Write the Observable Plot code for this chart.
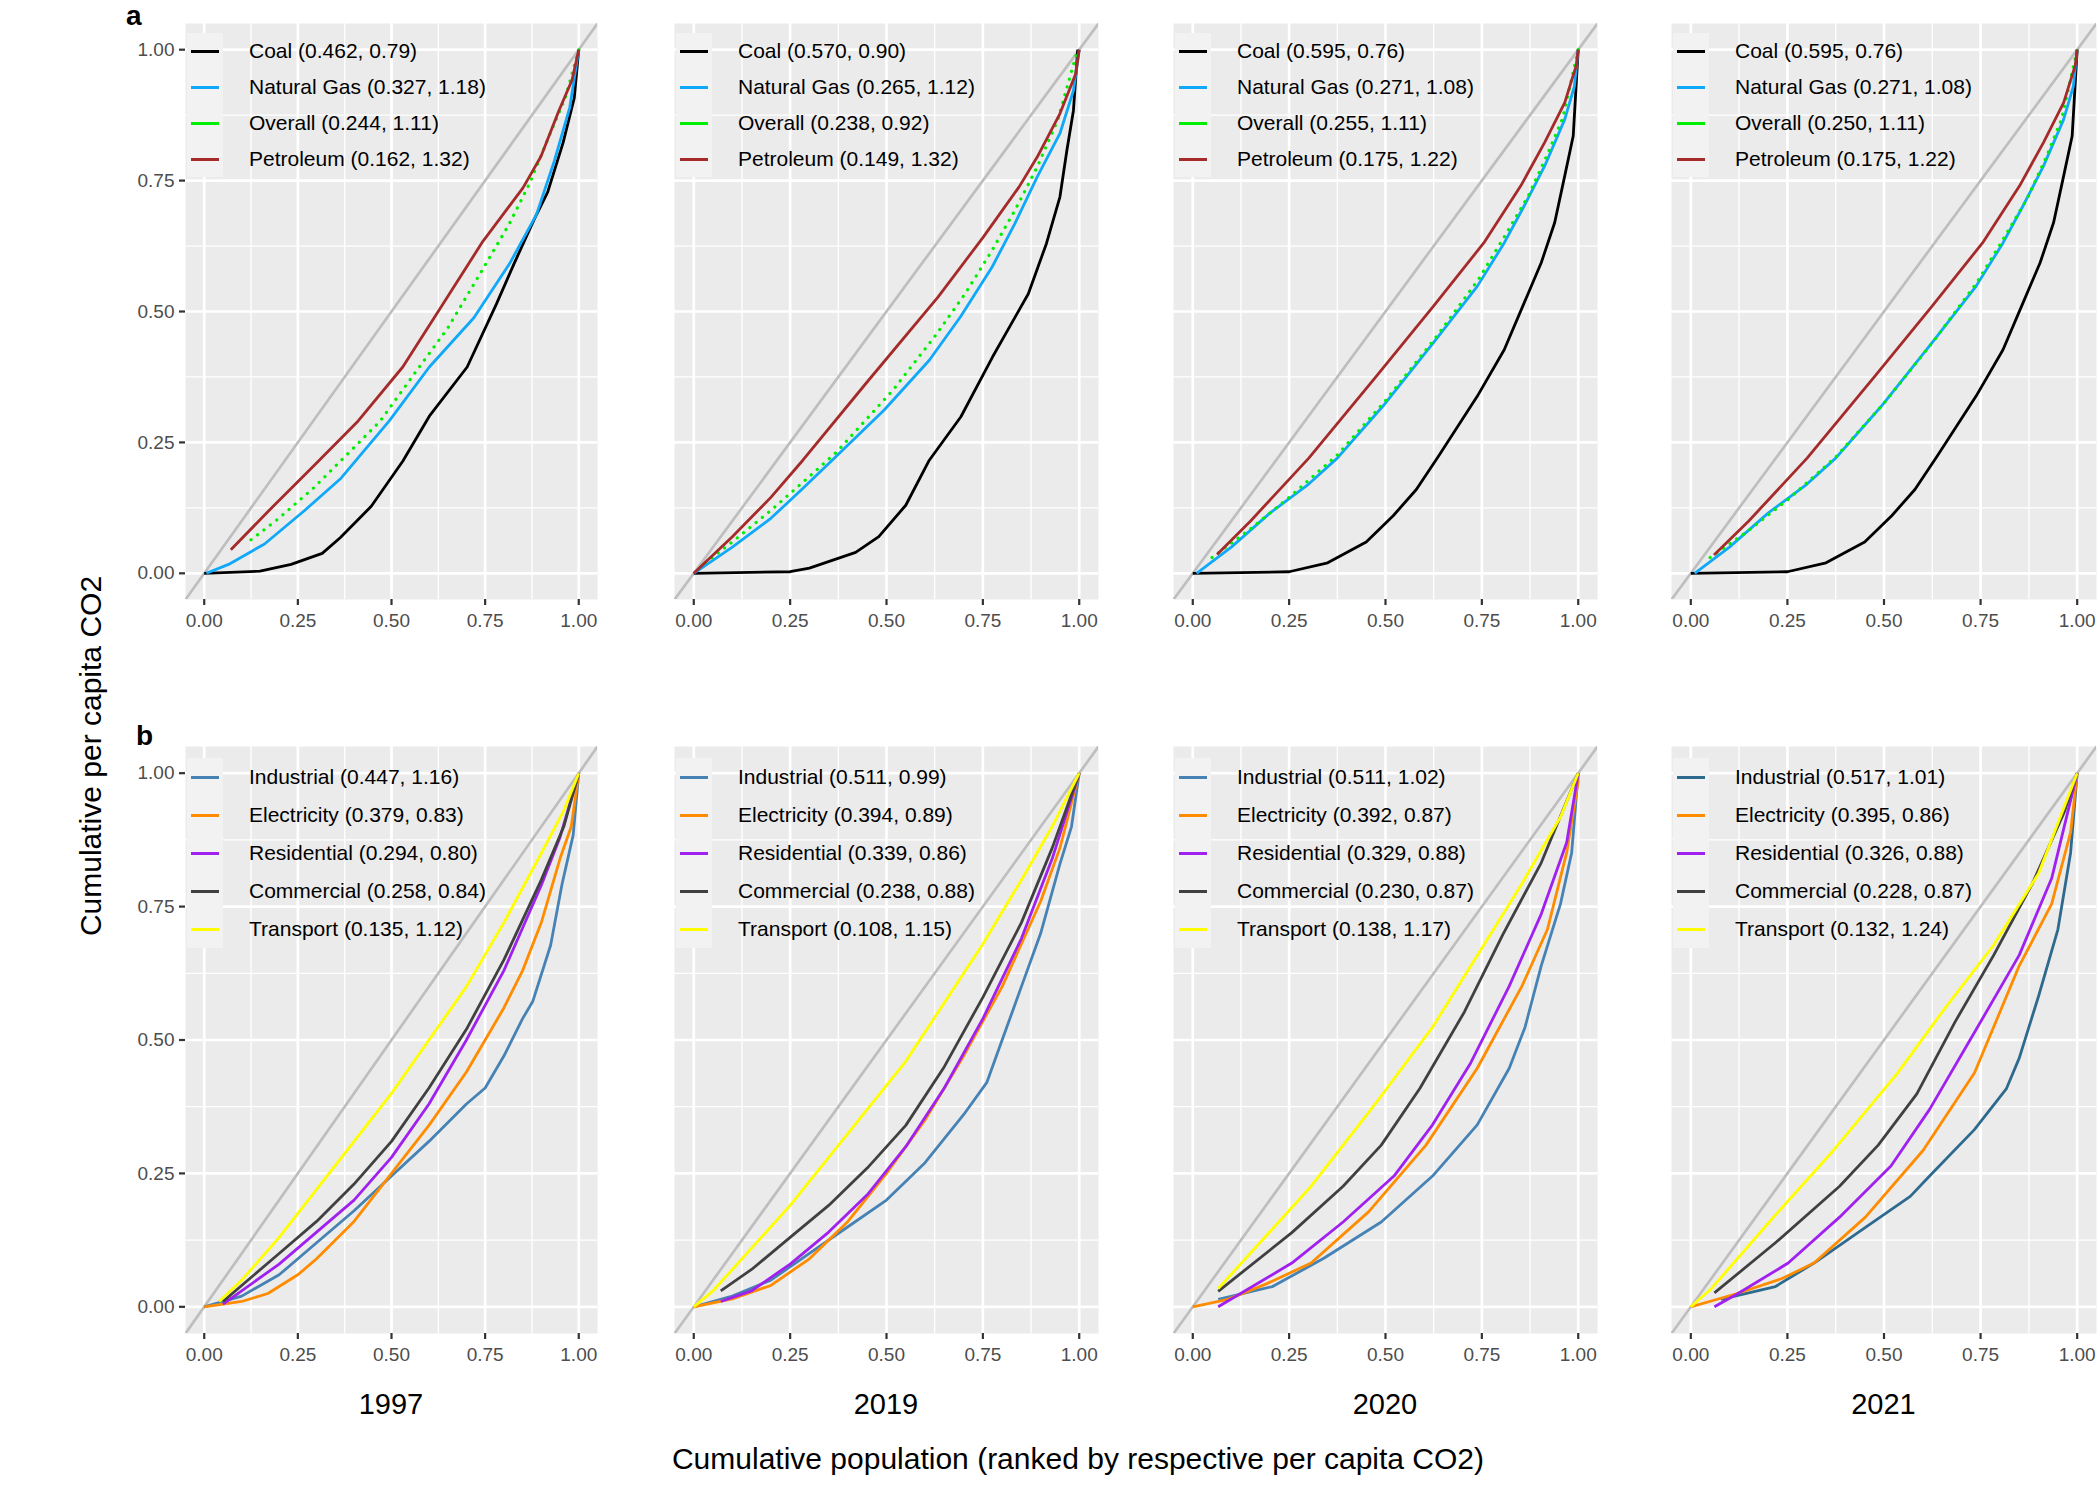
<!DOCTYPE html>
<html><head><meta charset="utf-8">
<script src="https://cdn.jsdelivr.net/npm/d3@7"></script>
<script src="https://cdn.jsdelivr.net/npm/@observablehq/plot@0.6"></script>
<style>
body{margin:0;background:#fff;font-family:Arial,"Liberation Sans",sans-serif;}
#root{position:relative;width:2100px;height:1500px;}
.abs{position:absolute;}
.leg{position:absolute;font-size:21px;color:#000;}
.legrow{position:relative;height:37px;line-height:37px;white-space:nowrap;}
.key{position:absolute;left:0;top:0;width:36px;height:37px;background:#F2F2F2;}
.seg{position:absolute;left:4px;top:17px;width:28px;height:3px;}
.lab{position:absolute;left:62px;top:0;}
</style></head>
<body><div id="root"></div>
<script>
const years = ["1997","2019","2020","2021"];
const topSeries = ["Coal","Natural Gas","Overall","Petroleum"];
const botSeries = ["Industrial","Electricity","Residential","Commercial","Transport"];
const topColors = ["#000000","#10A8F8","#00EE00","#A52A2A"];
const botColorsByYear = [
  ["#4682B4","#FF8C00","#A020F0","#404040","#FFFF00"],
  ["#4682B4","#FF8C00","#A020F0","#404040","#FFFF00"],
  ["#4682B4","#FF8C00","#A020F0","#404040","#FFFF00"],
  ["#2E6A8E","#FF8C00","#A020F0","#404040","#FFFF00"]
];
const topStats = [
  ["(0.462, 0.79)","(0.327, 1.18)","(0.244, 1.11)","(0.162, 1.32)"],
  ["(0.570, 0.90)","(0.265, 1.12)","(0.238, 0.92)","(0.149, 1.32)"],
  ["(0.595, 0.76)","(0.271, 1.08)","(0.255, 1.11)","(0.175, 1.22)"],
  ["(0.595, 0.76)","(0.271, 1.08)","(0.250, 1.11)","(0.175, 1.22)"]
];
const botStats = [
  ["(0.447, 1.16)","(0.379, 0.83)","(0.294, 0.80)","(0.258, 0.84)","(0.135, 1.12)"],
  ["(0.511, 0.99)","(0.394, 0.89)","(0.339, 0.86)","(0.238, 0.88)","(0.108, 1.15)"],
  ["(0.511, 1.02)","(0.392, 0.87)","(0.329, 0.88)","(0.230, 0.87)","(0.138, 1.17)"],
  ["(0.517, 1.01)","(0.395, 0.86)","(0.326, 0.88)","(0.228, 0.87)","(0.132, 1.24)"]
];
const equality = [-0.05, 1.05];
const ticksMajor = [0,0.25,0.5,0.75,1];
const ticksMinor = [-0.125,0.125,0.375,0.625,0.875];

// Panel a curves [x,y]
const coal1997 = [[0,0],[0.149,0.004],[0.232,0.017],[0.315,0.038],[0.363,0.068],[0.446,0.128],[0.53,0.214],[0.601,0.3],[0.702,0.394],[0.78,0.514],[0.827,0.591],[0.881,0.676],[0.917,0.728],[0.958,0.822],[0.988,0.908],[1,1]];
const gas1997 = [[0.006,0],[0.065,0.017],[0.161,0.056],[0.268,0.12],[0.363,0.18],[0.494,0.291],[0.601,0.394],[0.72,0.488],[0.815,0.591],[0.887,0.685],[0.935,0.788],[0.976,0.89],[1,1]];
const overall1997 = [[0.125,0.064],[0.196,0.103],[0.292,0.163],[0.387,0.231],[0.47,0.291],[0.565,0.385],[0.649,0.467],[0.738,0.574],[0.815,0.668],[0.869,0.745],[0.923,0.839],[0.964,0.908],[1,1]];
const petro1997 = [[0.071,0.045],[0.173,0.12],[0.292,0.205],[0.411,0.291],[0.53,0.394],[0.637,0.514],[0.744,0.634],[0.851,0.736],[0.899,0.796],[0.946,0.882],[0.982,0.942],[1,1]];

const coal2019 = [[0,0],[0.25,0.003],[0.3,0.01],[0.42,0.04],[0.48,0.07],[0.55,0.13],[0.611,0.216],[0.693,0.299],[0.775,0.413],[0.868,0.534],[0.915,0.63],[0.95,0.719],[0.968,0.808],[0.985,0.884],[0.996,1]];
const gas2019 = [[0,0],[0.1,0.05],[0.2,0.105],[0.28,0.16],[0.359,0.216],[0.494,0.312],[0.611,0.407],[0.692,0.49],[0.774,0.585],[0.833,0.668],[0.891,0.757],[0.95,0.84],[0.985,0.922],[1,1]];
const overall2019 = [[0.03,0.02],[0.1,0.06],[0.2,0.12],[0.3,0.185],[0.371,0.232],[0.517,0.35],[0.628,0.455],[0.704,0.534],[0.774,0.617],[0.833,0.693],[0.891,0.776],[0.944,0.865],[0.996,1]];
const petro2019 = [[0,0],[0.1,0.07],[0.2,0.145],[0.283,0.216],[0.447,0.363],[0.634,0.528],[0.751,0.642],[0.844,0.738],[0.891,0.795],[0.95,0.878],[0.991,0.954],[1,1]];

const coal2020 = [[0,0],[0.25,0.003],[0.35,0.02],[0.45,0.06],[0.52,0.11],[0.58,0.16],[0.637,0.223],[0.738,0.338],[0.808,0.427],[0.86,0.517],[0.904,0.593],[0.939,0.67],[0.965,0.759],[0.987,0.835],[1,1]];
const gas2020 = [[0.01,0],[0.1,0.05],[0.2,0.115],[0.3,0.17],[0.375,0.22],[0.493,0.319],[0.624,0.44],[0.738,0.548],[0.808,0.631],[0.86,0.702],[0.913,0.778],[0.965,0.867],[0.99,0.93],[1,1]];
const overall2020 = [[0.05,0.03],[0.15,0.085],[0.25,0.145],[0.375,0.226],[0.5,0.33],[0.63,0.45],[0.74,0.56],[0.81,0.645],[0.87,0.72],[0.92,0.8],[0.96,0.87],[1,1]];
const petro2020 = [[0.063,0.036],[0.15,0.1],[0.301,0.22],[0.476,0.376],[0.624,0.51],[0.755,0.631],[0.851,0.74],[0.913,0.823],[0.965,0.899],[0.995,0.97],[1,1]];

const coal2021 = [[0,0],[0.25,0.003],[0.35,0.02],[0.45,0.06],[0.52,0.11],[0.58,0.16],[0.637,0.223],[0.738,0.338],[0.808,0.427],[0.86,0.517],[0.904,0.593],[0.939,0.67],[0.965,0.759],[0.987,0.835],[1,1]];
const gas2021 = [[0.01,0],[0.1,0.05],[0.2,0.115],[0.3,0.17],[0.375,0.22],[0.493,0.319],[0.624,0.44],[0.738,0.548],[0.808,0.631],[0.86,0.702],[0.913,0.778],[0.965,0.867],[0.99,0.93],[1,1]];
const overall2021 = [[0.05,0.03],[0.15,0.082],[0.25,0.14],[0.375,0.222],[0.5,0.325],[0.63,0.445],[0.74,0.555],[0.81,0.64],[0.87,0.715],[0.92,0.795],[0.96,0.868],[1,1]];
const petro2021 = [[0.06,0.035],[0.15,0.1],[0.301,0.22],[0.476,0.376],[0.624,0.51],[0.755,0.631],[0.851,0.74],[0.913,0.823],[0.965,0.899],[0.995,0.97],[1,1]];

// Panel b curves
const ind1997 = [[0,0],[0.1,0.02],[0.2,0.06],[0.3,0.12],[0.4,0.18],[0.5,0.245],[0.6,0.31],[0.7,0.38],[0.75,0.41],[0.8,0.47],[0.85,0.54],[0.877,0.572],[0.925,0.678],[0.955,0.791],[0.985,0.884],[1,1]];
const ele1997 = [[0,0],[0.05,0.005],[0.1,0.01],[0.17,0.025],[0.25,0.06],[0.3,0.09],[0.4,0.16],[0.5,0.25],[0.6,0.34],[0.7,0.44],[0.8,0.56],[0.85,0.63],[0.9,0.72],[0.95,0.84],[0.98,0.9],[1,1]];
const res1997 = [[0.05,0.005],[0.1,0.03],[0.2,0.08],[0.3,0.14],[0.4,0.2],[0.5,0.28],[0.6,0.38],[0.7,0.5],[0.8,0.63],[0.9,0.79],[0.95,0.88],[1,1]];
const com1997 = [[0.05,0.01],[0.1,0.04],[0.2,0.1],[0.3,0.16],[0.4,0.23],[0.5,0.31],[0.6,0.41],[0.7,0.52],[0.8,0.65],[0.9,0.8],[0.96,0.9],[1,1]];
const tra1997 = [[0.04,0.01],[0.1,0.05],[0.2,0.13],[0.3,0.22],[0.4,0.31],[0.5,0.4],[0.6,0.5],[0.7,0.6],[0.8,0.72],[0.9,0.85],[0.96,0.93],[1,1]];

const ind2019 = [[0,0],[0.1,0.02],[0.2,0.05],[0.3,0.1],[0.4,0.15],[0.5,0.2],[0.6,0.27],[0.7,0.36],[0.76,0.42],[0.8,0.5],[0.85,0.6],[0.9,0.7],[0.95,0.83],[0.98,0.9],[1,1]];
const ele2019 = [[0,0],[0.1,0.015],[0.2,0.04],[0.3,0.09],[0.4,0.16],[0.5,0.25],[0.6,0.35],[0.7,0.47],[0.8,0.6],[0.9,0.76],[0.95,0.86],[1,1]];
const res2019 = [[0.07,0.01],[0.15,0.03],[0.25,0.08],[0.35,0.14],[0.45,0.21],[0.55,0.3],[0.65,0.41],[0.75,0.54],[0.85,0.69],[0.93,0.84],[1,1]];
const com2019 = [[0.07,0.03],[0.15,0.07],[0.25,0.13],[0.35,0.19],[0.45,0.26],[0.55,0.34],[0.65,0.45],[0.75,0.58],[0.85,0.72],[0.93,0.86],[1,1]];
const tra2019 = [[0,0],[0.05,0.03],[0.15,0.11],[0.25,0.19],[0.35,0.28],[0.45,0.37],[0.55,0.46],[0.65,0.57],[0.75,0.68],[0.85,0.8],[0.93,0.9],[1,1]];

const ind2020 = [[0.066,0.014],[0.207,0.038],[0.34,0.091],[0.489,0.159],[0.622,0.245],[0.738,0.341],[0.821,0.447],[0.862,0.524],[0.904,0.639],[0.954,0.755],[0.983,0.851],[1,1]];
const ele2020 = [[0,0],[0.091,0.014],[0.191,0.043],[0.307,0.082],[0.456,0.178],[0.605,0.303],[0.738,0.447],[0.854,0.601],[0.92,0.707],[0.97,0.851],[1,0.985],[1,1]];
const res2020 = [[0.066,0],[0.257,0.082],[0.39,0.159],[0.522,0.245],[0.622,0.341],[0.721,0.457],[0.821,0.601],[0.904,0.736],[0.97,0.87],[1,1]];
const com2020 = [[0.066,0.029],[0.257,0.139],[0.39,0.226],[0.489,0.303],[0.589,0.409],[0.705,0.553],[0.804,0.697],[0.904,0.832],[1,1]];
const tra2020 = [[0.066,0.034],[0.174,0.12],[0.307,0.226],[0.473,0.38],[0.622,0.524],[0.755,0.678],[0.854,0.793],[0.954,0.918],[1,1]];

const ind2021 = [[0.078,0.014],[0.219,0.038],[0.319,0.082],[0.452,0.149],[0.568,0.207],[0.618,0.245],[0.734,0.332],[0.817,0.409],[0.85,0.466],[0.9,0.582],[0.95,0.707],[0.983,0.851],[1,1]];
const ele2021 = [[0,0],[0.116,0.024],[0.236,0.053],[0.319,0.082],[0.452,0.168],[0.601,0.293],[0.734,0.438],[0.85,0.639],[0.934,0.755],[0.983,0.889],[1,1]];
const res2021 = [[0.061,0],[0.12,0.024],[0.252,0.082],[0.385,0.168],[0.518,0.264],[0.618,0.37],[0.734,0.514],[0.85,0.659],[0.934,0.803],[1,1]];
const com2021 = [[0.061,0.026],[0.219,0.12],[0.385,0.226],[0.485,0.303],[0.585,0.399],[0.684,0.534],[0.784,0.659],[0.884,0.793],[0.967,0.928],[1,1]];
const tra2021 = [[0,0],[0.053,0.034],[0.203,0.159],[0.369,0.293],[0.535,0.438],[0.651,0.553],[0.784,0.678],[0.9,0.812],[1,1]];

const topCurves = [
  [coal1997,gas1997,overall1997,petro1997],
  [coal2019,gas2019,overall2019,petro2019],
  [coal2020,gas2020,overall2020,petro2020],
  [coal2021,gas2021,overall2021,petro2021]
];
const botCurves = [
  [ind1997,ele1997,res1997,com1997,tra1997],
  [ind2019,ele2019,res2019,com2019,tra2019],
  [ind2020,ele2020,res2020,com2020,tra2020],
  [ind2021,ele2021,res2021,com2021,tra2021]
];

// layout
const colLeft = [185, 674, 1173, 1671];
const colWidth = [412, 424, 424, 425];
const rowTop = [23, 746];
const rowHeight = [576, 587];
const root = document.getElementById("root");
const fmt = d => d3.format(".2f")(d);

function panel(ci, ri, curves, names, colors, dotted) {
  const showY = ci === 0;
  const ml = showY ? 80 : 0;
  const mb = 50;
  const marks = [
    Plot.frame({fill:"#EBEBEB", stroke:null}),
    Plot.gridX(ticksMinor, {stroke:"#fff", strokeOpacity:1, strokeWidth:1.3}),
    Plot.gridY(ticksMinor, {stroke:"#fff", strokeOpacity:1, strokeWidth:1.3}),
    Plot.gridX(ticksMajor, {stroke:"#fff", strokeOpacity:1, strokeWidth:2.7}),
    Plot.gridY(ticksMajor, {stroke:"#fff", strokeOpacity:1, strokeWidth:2.7}),
    Plot.line(equality, {x:d=>d, y:d=>d, stroke:"#BEBEBE", strokeWidth:2.7, clip:true}),
    Plot.axisX(ticksMajor, {tickFormat:fmt, fontSize:19, tickSize:6, tickPadding:8, stroke:"#333", strokeWidth:2.2, color:"#4D4D4D", label:null})
  ];
  if (showY) marks.push(Plot.axisY(ticksMajor, {tickFormat:fmt, fontSize:19, tickSize:6, tickPadding:5, stroke:"#333", strokeWidth:2.2, color:"#4D4D4D", label:null}));
  else marks.push(Plot.axisY([], {label:null}));
  curves.forEach((c, i) => {
    const isDot = dotted && i === 2;
    marks.push(Plot.line(c, {x:d=>d[0], y:d=>d[1], stroke:colors[i], strokeWidth: isDot ? 3.2 : 2.8,
      strokeDasharray: isDot ? "0.1,8" : null, strokeLinecap: isDot ? "round" : "butt", curve:"linear", clip:true}));
  });
  const chart = Plot.plot({
    width: colWidth[ci] + ml, height: rowHeight[ri] + mb,
    marginLeft: ml, marginRight: 0, marginTop: 0, marginBottom: mb,
    x:{domain:[-0.05,1.05], axis:null}, y:{domain:[-0.05,1.05], axis:null},
    style:{fontFamily:"Arial, 'Liberation Sans', sans-serif", background:"transparent", overflow:"visible"},
    marks
  });
  chart.style.position = "absolute";
  chart.style.left = (colLeft[ci] - ml) + "px";
  chart.style.top = rowTop[ri] + "px";
  root.appendChild(chart);
}

function legend(ci, ri, names, stats, colors, rowH, topOff) {
  const div = document.createElement("div");
  div.className = "leg";
  div.style.left = (colLeft[ci] + 2) + "px";
  div.style.top = (rowTop[ri] + topOff) + "px";
  names.forEach((n, i) => {
    const r = document.createElement("div");
    r.className = "legrow"; r.style.height = rowH + "px"; r.style.lineHeight = rowH + "px";
    r.innerHTML = `<div class="key" style="height:${rowH}px"></div><div class="seg" style="background:${colors[i]};top:${rowH/2-1.5}px"></div><div class="lab">${n} ${stats[i]}</div>`;
    div.appendChild(r);
  });
  root.appendChild(div);
}

years.forEach((y, ci) => {
  panel(ci, 0, topCurves[ci], topSeries, topColors, true);
  legend(ci, 0, topSeries, topStats[ci], topColors, 36, 10);
  panel(ci, 1, botCurves[ci], botSeries, botColorsByYear[ci], false);
  legend(ci, 1, botSeries, botStats[ci], botColorsByYear[ci], 38, 12);
  const t = document.createElement("div");
  t.className = "abs"; t.textContent = y;
  t.style.cssText += `left:${colLeft[ci]}px;width:${colWidth[ci]}px;top:1388px;text-align:center;font-size:29px;`;
  root.appendChild(t);
});

function addText(txt, css) { const d = document.createElement("div"); d.className="abs"; d.textContent = txt; d.style.cssText += css; root.appendChild(d); }
addText("a", "left:126px;top:0px;font-size:28px;font-weight:bold;");
addText("b", "left:136px;top:720px;font-size:28px;font-weight:bold;");
addText("Cumulative population (ranked by respective per capita CO2)", "left:0;width:2156px;top:1442px;text-align:center;font-size:30px;");
addText("Cumulative per capita CO2", "left:91px;top:756px;font-size:30px;white-space:nowrap;transform:translate(-50%,-50%) rotate(-90deg);");
</script></body></html>
